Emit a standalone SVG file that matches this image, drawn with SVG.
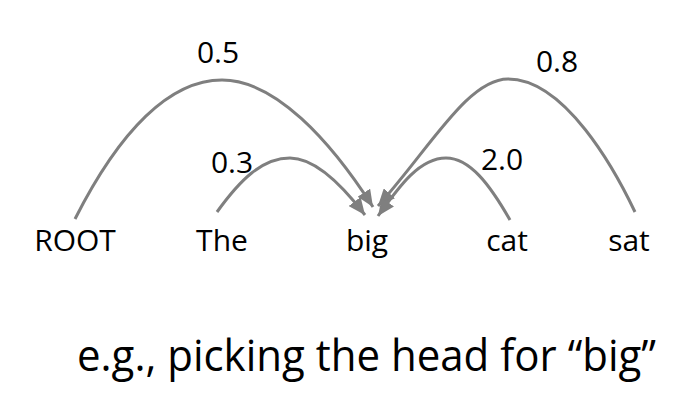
<svg xmlns="http://www.w3.org/2000/svg" width="700" height="416" viewBox="0 0 700 416">
  <defs>
    <style>
      .w { font-family: "Open Sans", Lato, "Liberation Sans", sans-serif; font-size: 30px; fill: #000; text-anchor: middle; }
      .n { font-family: "Open Sans", Lato, "Liberation Sans", sans-serif; font-size: 30px; fill: #000; text-anchor: middle; }
      .cap { font-family: "Open Sans", Lato, "Liberation Sans", sans-serif; font-size: 44px; fill: #000; text-anchor: middle; }
      .arc { fill: none; stroke: #7f7f7f; stroke-width: 3; marker-end: url(#ah); }
    </style>
    <marker id="ah" markerUnits="userSpaceOnUse" markerWidth="18" markerHeight="15" refX="17" refY="7.5" orient="auto" viewBox="0 0 18 15">
      <path d="M0,0 L17,7.5 L0,15 z" fill="#7f7f7f"/>
    </marker>
  </defs>
  <rect width="700" height="416" fill="#fff"/>
  <g id="connectors">
    <path class="arc" d="M75,219 C120,130 170,80 222,80 C275,80 330,140 373,207"/>
    <path class="arc" d="M217,212 C240,180 262,158 290,158 C315,158 342,185 365,215"/>
    <path class="arc" d="M635,212 C615,170 565,79 508,79 C468,79 430,148 378,206"/>
    <path class="arc" d="M510,220 C490,185 470,158 446,158 C420,158 400,185 378,216"/>
  </g>
  <g id="labels">
    <text class="n" x="218" y="63">0.5</text>
    <text class="n" x="232" y="173">0.3</text>
    <text class="n" x="557" y="72">0.8</text>
    <text class="n" x="502" y="170">2.0</text>
  </g>
  <g id="node-root"><text class="w" x="75" y="251">ROOT</text></g>
  <g id="node-the"><text class="w" x="222" y="251">The</text></g>
  <g id="node-big"><text class="w" x="367" y="251">big</text></g>
  <g id="node-cat"><text class="w" x="507" y="251">cat</text></g>
  <g id="node-sat"><text class="w" x="629" y="251">sat</text></g>
  <text class="cap" x="366.5" y="371" textLength="579" lengthAdjust="spacingAndGlyphs">e.g., picking the head for “big”</text>
</svg>
